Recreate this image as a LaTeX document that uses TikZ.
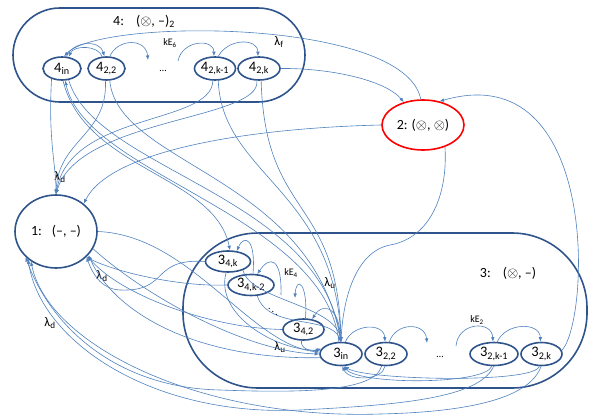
\documentclass[tikz,border=0pt]{standalone}
\usepackage{fontspec}
\setmainfont{Carlito}
\usetikzlibrary{shapes.geometric,arrows.meta}
\definecolor{boxc}{RGB}{47,84,140}
\definecolor{edgec}{RGB}{79,129,189}
\definecolor{redc}{RGB}{255,0,0}
\newcommand{\sbs}[1]{\textsubscript{#1}}
\tikzset{
  stnode/.style={ellipse, draw=boxc, line width=1.6pt, inner sep=0pt, font=\fontsize{14.5}{16}\selectfont},
  bignode/.style={ellipse, draw=boxc, line width=1.6pt, inner sep=0pt, font=\fontsize{14}{16}\selectfont},
  cont/.style={rectangle, draw=boxc, line width=1.6pt},
  edge/.style={draw=edgec, line width=0.6pt},
  arr/.style={edge, -{Latex[length=4.5pt,width=3.6pt]}},
  lab/.style={font=\fontsize{14}{16}\selectfont, inner sep=0pt},
  lamlab/.style={font=\fontsize{13}{15}\selectfont, inner sep=0pt},
  small/.style={font=\fontsize{10}{12}\selectfont, inner sep=0pt}
}
\begin{document}
\begin{tikzpicture}[x=1pt,y=-1pt]
\useasboundingbox (0,0) rectangle (593,417);
% containers
\node[cont, minimum width=292pt, minimum height=94pt, rounded corners=47pt] (c4) at (159,55) {};
\node[cont, minimum width=404pt, minimum height=155pt, rounded corners=75pt] (c3) at (385,310.5) {};
% labels of containers
\node[lab] (l4) at (144,21) {4:\hspace{12pt}($\otimes$, –)\sbs{2}};
\node[lab] (l3) at (508,273) {3:\hspace{12pt}($\otimes$, –)};
% nodes of 4
\node[stnode, minimum width=38pt, minimum height=23pt] (a1) at (62,68.5) {4\sbs{in}};
\node[stnode, minimum width=37pt, minimum height=23pt] (a2) at (106.5,68.5) {4\sbs{2,2}};
\node[small] (ad) at (163,71) {\ldots};
\node[stnode, minimum width=41pt, minimum height=23pt] (a3) at (215,68.5) {4\sbs{2,k-1}};
\node[stnode, minimum width=42pt, minimum height=23pt] (a4) at (259,68.5) {4\sbs{2,k}};
% main nodes
\node[bignode, minimum width=82pt, minimum height=73pt] (n1) at (56,231.5) {1:\hspace{10pt}(–, –)};
\node[bignode, draw=redc, minimum width=82pt, minimum height=50pt] (n2) at (423,125) {2:\hspace{4pt}($\otimes$, $\otimes$)};
% nodes of 3
\node[stnode, minimum width=45pt, minimum height=21pt] (ck) at (228,261.5) {3\sbs{4,k}};
\node[stnode, minimum width=46pt, minimum height=21pt] (ck2) at (251,285) {3\sbs{4,k-2}};
\node[small] (cd) at (273,309) {$\ddots$};
\node[stnode, minimum width=41pt, minimum height=21pt] (c2) at (303.5,329.5) {3\sbs{4,2}};
\node[stnode, minimum width=42pt, minimum height=23pt] (b0) at (341,354) {3\sbs{in}};
\node[stnode, minimum width=42pt, minimum height=23pt] (b2) at (386,354) {3\sbs{2,2}};
\node[small] (bd) at (440,357) {\ldots};
\node[stnode, minimum width=48pt, minimum height=23pt] (b3) at (494,354) {3\sbs{2,k-1}};
\node[stnode, minimum width=41pt, minimum height=23pt] (b4) at (541.5,354) {3\sbs{2,k}};
% rate labels
\node[small] (k6) at (170,43) {kE\sbs{6}};
\node[small] (k4) at (291,273) {kE\sbs{4}};
\node[small] (k2) at (477,320) {kE\sbs{2}};
\node[lamlab] (lf) at (279,42) {λ\sbs{f}};
\node[lamlab] (ld1) at (60,177) {λ\sbs{d}};
\node[lamlab] (ld2) at (102,276) {λ\sbs{d}};
\node[lamlab] (ld3) at (50,323) {λ\sbs{d}};
\node[lamlab] (lu1) at (330,283) {λ\sbs{u}};
\node[lamlab] (lu2) at (280,347) {λ\sbs{u}};
% free ends
\coordinate (ad1) at (148,60);
\coordinate (ad2) at (178,61);
\coordinate (bd1) at (427,343);
\coordinate (bd2) at (456,346);
\coordinate (cd1) at (295,298);
\coordinate (cd2) at (281,295);
\coordinate (m1) at (390,245);
\coordinate (p1) at (300,410);
\coordinate (p2) at (380,414);
\coordinate (p3) at (220,390);
\coordinate (q1) at (120,290);
% chain in 4
\draw[arr] (a1.70) .. controls (74,40) and (100,40) .. (a2.100);
\draw[arr] (a2.110) .. controls (98,45) and (74,45) .. (a1.60);
\draw[arr] (a2.75) .. controls (118,38) and (146,38) .. (ad1);
\draw[arr] (ad2) .. controls (182,40) and (214,38) .. (a3.95);
\draw[arr] (a3.75) .. controls (228,38) and (258,38) .. (a4.95);
% lambda_f and transitions to 2
\draw[arr] (n2.95) .. controls (405,18) and (100,18) .. (a1.80);
\draw[arr] (a4.east) .. controls (330,68) and (385,80) .. (n2.130);
\draw[arr] (b4.10) .. controls (590,320) and (600,55) .. (n2.55);
% 2 -> 3in, 2 -> 1
\draw[arr] (n2.-45) .. controls (448,195) and (430,238) .. (m1) .. controls (355,252) and (343,300) .. (b0.north);
\draw[arr] (n2.west) .. controls (250,128) and (110,150) .. (n1.45);
% lambda_d from 4 to 1
\draw[arr] (a1.225) .. controls (48,140) and (56,165) .. (n1.north);
\draw[arr] (a2.-95) .. controls (108,135) and (58,140) .. (n1.north);
\draw[arr] (a3.-100) .. controls (212,125) and (70,112) .. (n1.north);
\draw[arr] (a4.-100) .. controls (262,120) and (78,118) .. (n1.north);
% 4 -> 3
\draw[arr] (a4.-80) .. controls (265,220) and (338,195) .. (b0.north);
\draw[arr] (a3.-75) .. controls (222,175) and (335,190) .. (b0.north);
\draw[arr] (a2.-75) .. controls (118,165) and (310,175) .. (b0.north);
\draw[arr] (a1.-60) .. controls (95,170) and (320,195) .. (b0.north);
\draw[arr] (b0.100) .. controls (325,215) and (85,175) .. (a1.-75);
\draw[arr] (a1.-85) .. controls (85,170) and (215,175) .. (ck.80);
% chain 3_4
\draw[arr] (b0.95) .. controls (342,310) and (324,300) .. (c2.50);
\draw[arr] (c2.80) .. controls (308,282) and (296,276) .. (cd1);
\draw[arr] (cd2) .. controls (282,258) and (270,255) .. (ck2.60);
\draw[arr] (ck2.80) .. controls (256,238) and (244,234) .. (ck.50);
% chain 3_2
\draw[arr] (b0.70) .. controls (352,324) and (384,322) .. (b2.95);
\draw[arr] (b2.75) .. controls (396,322) and (425,322) .. (bd1);
\draw[arr] (bd2) .. controls (458,322) and (492,320) .. (b3.95);
\draw[arr] (b3.75) .. controls (506,322) and (540,322) .. (b4.95);
% back to 3in
\draw[arr] (b2.-95) .. controls (383,380) and (350,382) .. (b0.-85);
\draw[arr] (b3.-100) .. controls (485,385) and (360,385) .. (b0.-80);
\draw[arr] (b4.-100) .. controls (535,384) and (365,380) .. (b0.-75);
% lambda_d from 3_2 to 1
\draw[arr] (b3.-92) .. controls (480,398) and (400,405) .. (p1) .. controls (150,417) and (40,340) .. (n1.-135);
\draw[arr] (b4.-92) .. controls (530,398) and (470,412) .. (p2) .. controls (200,420) and (48,345) .. (n1.-130);
\draw[arr] (b2.-110) .. controls (375,392) and (300,393) .. (p3) .. controls (120,388) and (52,330) .. (n1.-140);
% lambda_d from 3_4 to 1
\draw[arr] (ck.west) .. controls (150,258) and (170,292) .. (q1) .. controls (100,289) and (92,272) .. (n1.-40);
\draw[arr] (ck2.west) .. controls (180,287) and (115,272) .. (n1.-40);
\draw[arr] (c2.west) .. controls (210,328) and (120,295) .. (n1.-38);
\draw[arr] (b0.190) .. controls (200,360) and (115,315) .. (n1.-36);
% lambda_u into 3in
\draw[arr] (n1.east) .. controls (190,235) and (250,345) .. (b0.175);
\draw[arr] (n1.-25) .. controls (150,300) and (250,352) .. (b0.180);
\draw[arr] (ck.-100) .. controls (215,315) and (275,350) .. (b0.170);
\draw[arr] (c2.-100) .. controls (300,348) and (310,352) .. (b0.165);
\draw[arr] (ck2.-60) .. controls (268,330) and (330,315) .. (b0.north);
\draw[arr] (ck.-30) .. controls (250,300) and (335,305) .. (b0.north);
\end{tikzpicture}
\end{document}
